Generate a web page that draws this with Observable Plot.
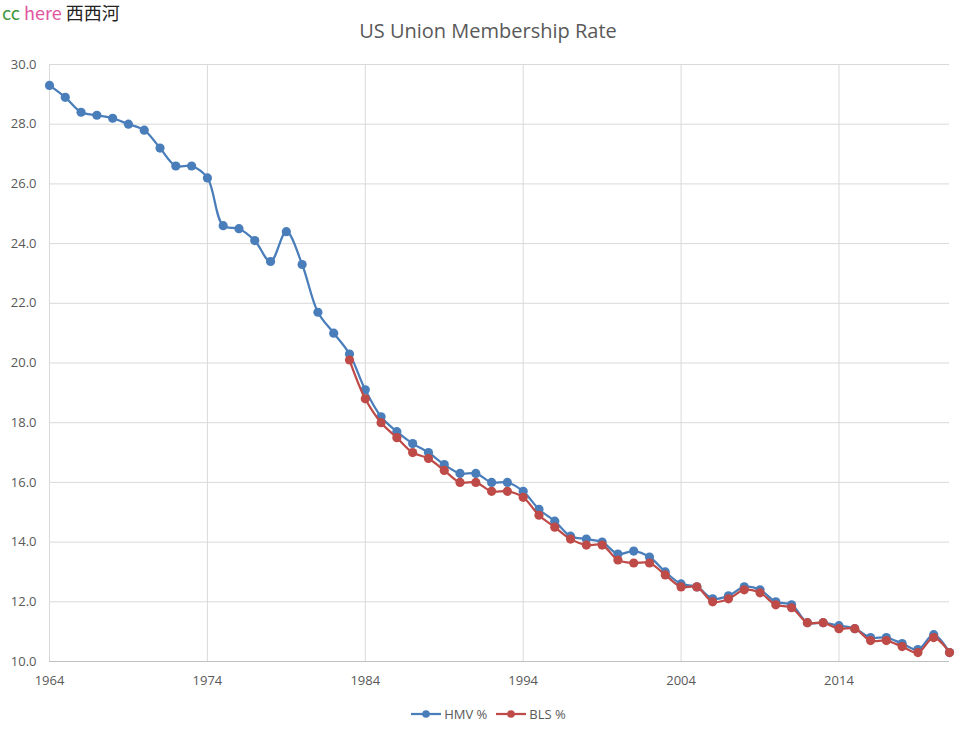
<!DOCTYPE html>
<html>
<head>
<meta charset="utf-8">
<script src="https://cdn.jsdelivr.net/npm/d3@7"></script>
<script src="https://cdn.jsdelivr.net/npm/@observablehq/plot@0.6"></script>
<style>
  html, body { margin: 0; padding: 0; background: #fff; }
  #wrap { position: relative; width: 976px; height: 732px; overflow: hidden; font-family: "Open Sans", sans-serif; }
  #wm { position: absolute; left: 2px; top: 2px; font-size: 18px; line-height: 21px; font-family: "Noto Sans CJK SC", "Open Sans", sans-serif; }
  #title { position: absolute; left: 0; width: 976px; top: 17px; text-align: center; font-size: 20px; color: #595959; }
  #chart { position: absolute; left: 0; top: 50px; }
  #legend { position: absolute; left: 0; width: 976px; top: 705px; display: flex; justify-content: center; gap: 8px; font-size: 13px; color: #595959; align-items: center; }
  #legend span.item { display: flex; align-items: center; gap: 2px; }
</style>
</head>
<body>
<div id="wrap">
  <div id="wm"><span style="color:#3f9a3f">cc</span> <span style="color:#e0559e">here</span> <span style="color:#222">西西河</span></div>
  <div id="title">US Union Membership Rate</div>
  <div id="chart"></div>
  <div id="legend"></div>
</div>
<script>
const hmvStart = 1964;
const hmvValues = [29.3,28.9,28.4,28.3,28.2,28.0,27.8,27.2,26.6,26.6,
  26.2,24.6,24.5,24.1,23.4,24.4,23.3,21.7,21.0,
  20.3,19.1,18.2,17.7,17.3,17.0,16.6,16.3,16.3,16.0,16.0,15.7,15.1,14.7,14.2,14.1,14.0,
  13.6,13.7,13.5,13.0,12.6,12.5,12.1,12.2,12.5,12.4,12.0,11.9,11.3,11.3,11.2,11.1,10.8,10.8,10.6,10.4,10.9,10.3];
const blsStart = 1983;
const blsValues = [20.1,18.8,18.0,17.5,17.0,16.8,16.4,16.0,16.0,15.7,15.7,15.5,14.9,14.5,14.1,13.9,13.9,
  13.4,13.3,13.3,12.9,12.5,12.5,12.0,12.1,12.4,12.3,11.9,11.8,11.3,11.3,11.1,11.1,10.7,10.7,10.5,10.3,10.8,10.3];
const xTicks = [1964,1974,1984,1994,2004,2014];
const yTicks = [10,12,14,16,18,20,22,24,26,28,30];
const seriesNames = ["HMV %", "BLS %"];
const seriesColors = ["#4a7ebb", "#be4b48"];

const hmv = hmvValues.map((v,i) => ({year: hmvStart + i, value: v}));
const bls = blsValues.map((v,i) => ({year: blsStart + i, value: v}));

const grid = "#d9d9d9";
const plot = Plot.plot({
  width: 976,
  height: 650,
  marginLeft: 49,
  marginRight: 27,
  marginTop: 14,
  marginBottom: 39,
  style: {fontFamily: "'Open Sans', sans-serif", fontSize: "13px", color: "#595959", background: "transparent"},
  x: {domain: [1964, 2021], label: null},
  y: {domain: [10, 30], label: null},
  marks: [
    Plot.ruleY(yTicks, {stroke: grid, strokeWidth: 1}),
    Plot.ruleX(xTicks, {stroke: grid, strokeWidth: 1}),
    Plot.ruleY([10], {stroke: "#bfbfbf", strokeWidth: 1}),
    Plot.axisX({ticks: xTicks, tickFormat: d => String(d), tickSize: 0, tickPadding: 14, fill: "#595959"}),
    Plot.axisY({ticks: yTicks, tickFormat: d3.format(".1f"), tickSize: 0, tickPadding: 13, fill: "#595959"}),
    Plot.line(hmv, {x: "year", y: "value", stroke: seriesColors[0], strokeWidth: 2.25, curve: "catmull-rom"}),
    Plot.dot(hmv, {x: "year", y: "value", fill: seriesColors[0], r: 4.6}),
    Plot.line(bls, {x: "year", y: "value", stroke: seriesColors[1], strokeWidth: 2.25, curve: "catmull-rom"}),
    Plot.dot(bls, {x: "year", y: "value", fill: seriesColors[1], r: 4.6})
  ]
});
document.getElementById("chart").appendChild(plot);

const legend = document.getElementById("legend");
seriesNames.forEach((name, i) => {
  const item = document.createElement("span");
  item.className = "item";
  item.innerHTML = `<svg width="32" height="12"><line x1="1" x2="31" y1="6" y2="6" stroke="${seriesColors[i]}" stroke-width="2.25"/><circle cx="16" cy="6" r="3.8" fill="${seriesColors[i]}"/></svg><span>${name}</span>`;
  legend.appendChild(item);
});
</script>
</body>
</html>
